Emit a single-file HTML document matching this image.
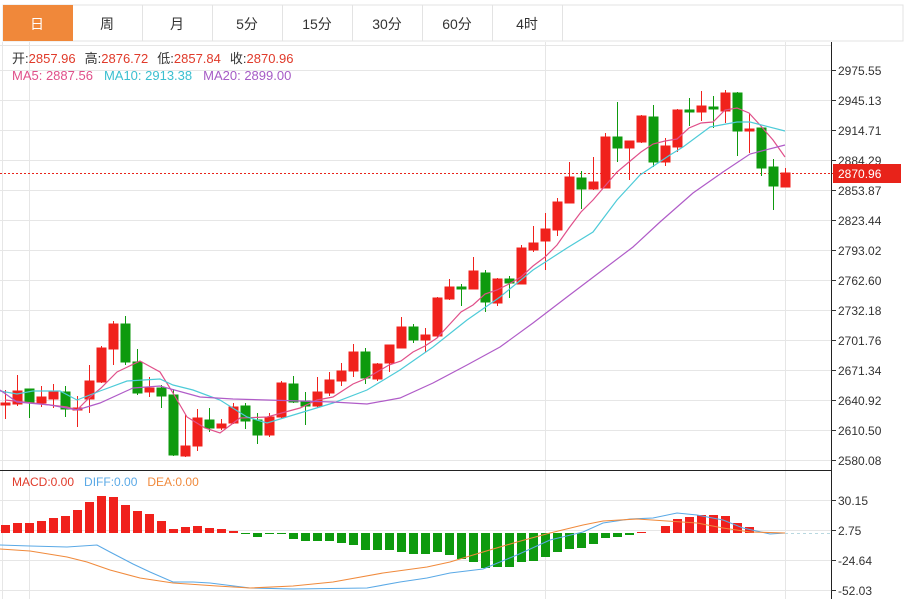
<!DOCTYPE html>
<html><head><meta charset="utf-8"><style>
body{margin:0;background:#fff;width:905px;height:599px;overflow:hidden;font-family:"Liberation Sans","Noto Sans CJK SC",sans-serif;}
svg text{font-family:"Liberation Sans","Noto Sans CJK SC",sans-serif;}
</style></head><body>
<svg width="905" height="599" viewBox="0 0 905 599" xmlns="http://www.w3.org/2000/svg">
<rect x="3" y="5" width="900" height="36" fill="#fff" stroke="#e3e3e3"/>
<rect x="3" y="5" width="70" height="36" fill="#f0883a"/>
<g stroke="#e3e3e3"><line x1="142.5" y1="5" x2="142.5" y2="41"/><line x1="212.5" y1="5" x2="212.5" y2="41"/><line x1="282.5" y1="5" x2="282.5" y2="41"/><line x1="352.5" y1="5" x2="352.5" y2="41"/><line x1="422.5" y1="5" x2="422.5" y2="41"/><line x1="492.5" y1="5" x2="492.5" y2="41"/><line x1="562.5" y1="5" x2="562.5" y2="41"/></g>
<g font-size="14" text-anchor="middle" fill="#333"><text x="37" y="29" fill="#fff">日</text><text x="107" y="29">周</text><text x="177" y="29">月</text><text x="247" y="29">5分</text><text x="317" y="29">15分</text><text x="387" y="29">30分</text><text x="457" y="29">60分</text><text x="527" y="29">4时</text></g>
<g stroke="#e6e6e6" stroke-width="1">
<line x1="0" y1="45.5" x2="831" y2="45.5"/>
<line x1="0" y1="70.5" x2="831" y2="70.5"/><line x1="0" y1="100.5" x2="831" y2="100.5"/><line x1="0" y1="130.5" x2="831" y2="130.5"/><line x1="0" y1="160.5" x2="831" y2="160.5"/><line x1="0" y1="190.5" x2="831" y2="190.5"/><line x1="0" y1="220.5" x2="831" y2="220.5"/><line x1="0" y1="250.5" x2="831" y2="250.5"/><line x1="0" y1="280.5" x2="831" y2="280.5"/><line x1="0" y1="310.5" x2="831" y2="310.5"/><line x1="0" y1="340.5" x2="831" y2="340.5"/><line x1="0" y1="370.5" x2="831" y2="370.5"/><line x1="0" y1="400.5" x2="831" y2="400.5"/><line x1="0" y1="430.5" x2="831" y2="430.5"/><line x1="0" y1="460.5" x2="831" y2="460.5"/>
<line x1="0" y1="500.5" x2="831" y2="500.5"/><line x1="0" y1="530.5" x2="831" y2="530.5"/><line x1="0" y1="560.5" x2="831" y2="560.5"/><line x1="0" y1="590.5" x2="831" y2="590.5"/>
<line x1="29.5" y1="42" x2="29.5" y2="599"/><line x1="545.5" y1="42" x2="545.5" y2="599"/><line x1="785.5" y1="42" x2="785.5" y2="599"/>
<line x1="2.5" y1="42" x2="2.5" y2="599"/>
</g>
<line x1="0" y1="470.5" x2="831" y2="470.5" stroke="#222"/>
<line x1="831.5" y1="42" x2="831.5" y2="599" stroke="#222"/>
<g font-size="12" fill="#333">
<g stroke="#333"><line x1="831" y1="70.5" x2="836" y2="70.5"/><line x1="831" y1="100.5" x2="836" y2="100.5"/><line x1="831" y1="130.5" x2="836" y2="130.5"/><line x1="831" y1="160.5" x2="836" y2="160.5"/><line x1="831" y1="190.5" x2="836" y2="190.5"/><line x1="831" y1="220.5" x2="836" y2="220.5"/><line x1="831" y1="250.5" x2="836" y2="250.5"/><line x1="831" y1="280.5" x2="836" y2="280.5"/><line x1="831" y1="310.5" x2="836" y2="310.5"/><line x1="831" y1="340.5" x2="836" y2="340.5"/><line x1="831" y1="370.5" x2="836" y2="370.5"/><line x1="831" y1="400.5" x2="836" y2="400.5"/><line x1="831" y1="430.5" x2="836" y2="430.5"/><line x1="831" y1="460.5" x2="836" y2="460.5"/><line x1="831" y1="500.5" x2="836" y2="500.5"/><line x1="831" y1="530.5" x2="836" y2="530.5"/><line x1="831" y1="560.5" x2="836" y2="560.5"/><line x1="831" y1="590.5" x2="836" y2="590.5"/></g>
<text x="838" y="75">2975.55</text><text x="838" y="105">2945.13</text><text x="838" y="135">2914.71</text><text x="838" y="165">2884.29</text><text x="838" y="195">2853.87</text><text x="838" y="225">2823.44</text><text x="838" y="255">2793.02</text><text x="838" y="285">2762.60</text><text x="838" y="315">2732.18</text><text x="838" y="345">2701.76</text><text x="838" y="375">2671.34</text><text x="838" y="405">2640.92</text><text x="838" y="435">2610.50</text><text x="838" y="465">2580.08</text>
<text x="838" y="505">30.15</text><text x="838" y="535">2.75</text><text x="838" y="565">-24.64</text><text x="838" y="595">-52.03</text>
</g>
<line x1="0" y1="173.5" x2="833" y2="173.5" stroke="#e8231a" stroke-dasharray="2,2"/>
<rect x="833" y="164" width="68" height="19" fill="#e8231a"/>
<text x="838" y="178" font-size="12" fill="#fff">2870.96</text>
<g font-size="13"><text x="12" y="63"><tspan fill="#333">开:</tspan><tspan fill="#e03a2a">2857.96</tspan><tspan fill="#333" dx="9">高:</tspan><tspan fill="#e03a2a">2876.72</tspan><tspan fill="#333" dx="9">低:</tspan><tspan fill="#e03a2a">2857.84</tspan><tspan fill="#333" dx="9">收:</tspan><tspan fill="#e03a2a">2870.96</tspan></text>
<text x="12" y="80"><tspan fill="#e0508a">MA5: 2887.56</tspan><tspan fill="#3bbfd0" dx="11">MA10: 2913.38</tspan><tspan fill="#a65cc6" dx="11">MA20: 2899.00</tspan></text></g>
<g font-size="12"><text x="12" y="486"><tspan fill="#e03a2a">MACD:0.00</tspan><tspan fill="#5aa9e6" dx="10">DIFF:0.00</tspan><tspan fill="#f08a3c" dx="10">DEA:0.00</tspan></text></g>
<g stroke-width="1">
<g stroke="#f0211c" fill="#f0211c">
<line x1="5.5" y1="390" x2="5.5" y2="419"/><rect x="1" y="403" width="9" height="2"/>
<line x1="17.5" y1="375" x2="17.5" y2="406"/><rect x="13" y="391" width="9" height="13"/>
<line x1="41.5" y1="386" x2="41.5" y2="407"/><rect x="37" y="397" width="9" height="6"/>
<line x1="53.5" y1="384" x2="53.5" y2="408"/><rect x="49" y="392" width="9" height="7"/>
<line x1="77.5" y1="396" x2="77.5" y2="427"/><rect x="73" y="408" width="9" height="2"/>
<line x1="89.5" y1="365" x2="89.5" y2="413"/><rect x="85" y="381" width="9" height="18"/>
<line x1="101.5" y1="346" x2="101.5" y2="383"/><rect x="97" y="348" width="9" height="34"/>
<line x1="113.5" y1="321" x2="113.5" y2="365"/><rect x="109" y="324" width="9" height="25"/>
<line x1="149.5" y1="377" x2="149.5" y2="397"/><rect x="145" y="388" width="9" height="4"/>
<line x1="185.5" y1="415" x2="185.5" y2="457"/><rect x="181" y="446" width="9" height="10"/>
<line x1="197.5" y1="409" x2="197.5" y2="451"/><rect x="193" y="418" width="9" height="28"/>
<line x1="221.5" y1="419" x2="221.5" y2="430"/><rect x="217" y="424" width="9" height="4"/>
<line x1="233.5" y1="403" x2="233.5" y2="424"/><rect x="229" y="407" width="9" height="16"/>
<line x1="269.5" y1="413" x2="269.5" y2="437"/><rect x="265" y="417" width="9" height="18"/>
<line x1="281.5" y1="381" x2="281.5" y2="418"/><rect x="277" y="383" width="9" height="34"/>
<line x1="317.5" y1="377" x2="317.5" y2="408"/><rect x="313" y="392" width="9" height="14"/>
<line x1="329.5" y1="372" x2="329.5" y2="396"/><rect x="325" y="380" width="9" height="13"/>
<line x1="341.5" y1="363" x2="341.5" y2="386"/><rect x="337" y="371" width="9" height="10"/>
<line x1="353.5" y1="344" x2="353.5" y2="377"/><rect x="349" y="352" width="9" height="19"/>
<line x1="377.5" y1="363" x2="377.5" y2="381"/><rect x="373" y="364" width="9" height="15"/>
<line x1="389.5" y1="345" x2="389.5" y2="372"/><rect x="385" y="345" width="9" height="18"/>
<line x1="401.5" y1="317" x2="401.5" y2="348"/><rect x="397" y="327" width="9" height="21"/>
<line x1="425.5" y1="328" x2="425.5" y2="352"/><rect x="421" y="335" width="9" height="5"/>
<line x1="437.5" y1="297" x2="437.5" y2="338"/><rect x="433" y="298" width="9" height="38"/>
<line x1="449.5" y1="279" x2="449.5" y2="300"/><rect x="445" y="287" width="9" height="12"/>
<line x1="473.5" y1="257" x2="473.5" y2="289"/><rect x="469" y="271" width="9" height="18"/>
<line x1="497.5" y1="278" x2="497.5" y2="306"/><rect x="493" y="279" width="9" height="24"/>
<line x1="521.5" y1="245" x2="521.5" y2="284"/><rect x="517" y="248" width="9" height="36"/>
<line x1="533.5" y1="226" x2="533.5" y2="252"/><rect x="529" y="243" width="9" height="7"/>
<line x1="545.5" y1="213" x2="545.5" y2="270"/><rect x="541" y="229" width="9" height="12"/>
<line x1="557.5" y1="198" x2="557.5" y2="236"/><rect x="553" y="202" width="9" height="28"/>
<line x1="569.5" y1="162" x2="569.5" y2="203"/><rect x="565" y="177" width="9" height="26"/>
<line x1="593.5" y1="157" x2="593.5" y2="190"/><rect x="589" y="182" width="9" height="7"/>
<line x1="605.5" y1="133" x2="605.5" y2="188"/><rect x="601" y="137" width="9" height="51"/>
<line x1="629.5" y1="141" x2="629.5" y2="180"/><rect x="625" y="141" width="9" height="7"/>
<line x1="641.5" y1="115" x2="641.5" y2="143"/><rect x="637" y="116" width="9" height="26"/>
<line x1="665.5" y1="138" x2="665.5" y2="166"/><rect x="661" y="146" width="9" height="16"/>
<line x1="677.5" y1="109" x2="677.5" y2="152"/><rect x="673" y="110" width="9" height="37"/>
<line x1="701.5" y1="91" x2="701.5" y2="121"/><rect x="697" y="106" width="9" height="6"/>
<line x1="725.5" y1="90" x2="725.5" y2="123"/><rect x="721" y="93" width="9" height="18"/>
<line x1="749.5" y1="113" x2="749.5" y2="153"/><rect x="745" y="129" width="9" height="2"/>
<line x1="785.5" y1="168" x2="785.5" y2="187"/><rect x="781" y="173" width="9" height="14"/>
</g>
<g stroke="#0e9a0e" fill="#0e9a0e">
<line x1="29.5" y1="389" x2="29.5" y2="418"/><rect x="25" y="389" width="9" height="13"/>
<line x1="65.5" y1="386" x2="65.5" y2="417"/><rect x="61" y="392" width="9" height="17"/>
<line x1="125.5" y1="316" x2="125.5" y2="365"/><rect x="121" y="324" width="9" height="38"/>
<line x1="137.5" y1="349" x2="137.5" y2="395"/><rect x="133" y="362" width="9" height="31"/>
<line x1="161.5" y1="385" x2="161.5" y2="408"/><rect x="157" y="388" width="9" height="8"/>
<line x1="173.5" y1="389" x2="173.5" y2="456"/><rect x="169" y="395" width="9" height="60"/>
<line x1="209.5" y1="408" x2="209.5" y2="432"/><rect x="205" y="420" width="9" height="8"/>
<line x1="245.5" y1="403" x2="245.5" y2="429"/><rect x="241" y="406" width="9" height="15"/>
<line x1="257.5" y1="413" x2="257.5" y2="444"/><rect x="253" y="420" width="9" height="15"/>
<line x1="293.5" y1="376" x2="293.5" y2="403"/><rect x="289" y="384" width="9" height="18"/>
<line x1="305.5" y1="392" x2="305.5" y2="425"/><rect x="301" y="401" width="9" height="5"/>
<line x1="365.5" y1="348" x2="365.5" y2="384"/><rect x="361" y="352" width="9" height="26"/>
<line x1="413.5" y1="324" x2="413.5" y2="343"/><rect x="409" y="327" width="9" height="13"/>
<line x1="461.5" y1="284" x2="461.5" y2="306"/><rect x="457" y="287" width="9" height="2"/>
<line x1="485.5" y1="270" x2="485.5" y2="312"/><rect x="481" y="273" width="9" height="29"/>
<line x1="509.5" y1="276" x2="509.5" y2="298"/><rect x="505" y="279" width="9" height="4"/>
<line x1="581.5" y1="171" x2="581.5" y2="209"/><rect x="577" y="178" width="9" height="11"/>
<line x1="617.5" y1="102" x2="617.5" y2="162"/><rect x="613" y="137" width="9" height="11"/>
<line x1="653.5" y1="105" x2="653.5" y2="167"/><rect x="649" y="117" width="9" height="45"/>
<line x1="689.5" y1="98" x2="689.5" y2="126"/><rect x="685" y="110" width="9" height="2"/>
<line x1="713.5" y1="96" x2="713.5" y2="128"/><rect x="709" y="107" width="9" height="2"/>
<line x1="737.5" y1="92" x2="737.5" y2="156"/><rect x="733" y="93" width="9" height="38"/>
<line x1="761.5" y1="128" x2="761.5" y2="176"/><rect x="757" y="128" width="9" height="40"/>
<line x1="773.5" y1="159" x2="773.5" y2="210"/><rect x="769" y="167" width="9" height="19"/>
</g></g>
<g fill="none" stroke-width="1.2">
<polyline stroke="#e0508a" points="5,400 33,403 67,407 77,410 89,398 101,388 117,372 140,361 160,372 173,393 187,417 205,428 220,433 240,418 267,417 300,408 317,400 333,397 353,384 365,379 389,365 401,361 413,352 425,346 437,338 449,325 461,312 473,305 485,294 497,290 509,284 521,277 533,266 545,257 557,245 569,228 581,212 593,200 605,186 617,172 629,162 641,152 653,144 665,141 677,139 689,128 701,123 713,122 725,110 737,108 749,113 760,125 773,140 785,157"/>
<polyline stroke="#4ecbd8" points="0,391 17,394 33,391 60,391 77,400 100,391 127,381 160,379 173,385 193,390 220,400 247,417 267,423 300,413 333,403 367,390 400,370 433,347 467,320 500,297 533,270 567,248 593,232 617,200 640,175 670,155 683,147 710,127 737,122 750,122 785,131"/>
<polyline stroke="#b05cc8" points="0,390 17,402 50,405 77,410 100,403 133,388 160,386 200,397 233,399 267,400 300,401 333,402 367,404 400,398 433,383 467,365 500,347 533,323 567,297 600,272 633,247 660,222 693,193 723,172 750,154 785,145"/>
</g>
<g fill="#f0211c">
<rect x="1" y="525" width="9" height="8"/><rect x="13" y="523" width="9" height="10"/><rect x="25" y="523" width="9" height="10"/><rect x="37" y="521" width="9" height="12"/><rect x="49" y="518" width="9" height="15"/><rect x="61" y="516" width="9" height="17"/><rect x="73" y="510" width="9" height="23"/><rect x="85" y="502" width="9" height="31"/><rect x="97" y="496" width="9" height="37"/><rect x="109" y="497" width="9" height="36"/><rect x="121" y="505" width="9" height="28"/><rect x="133" y="511" width="9" height="22"/><rect x="145" y="514" width="9" height="19"/><rect x="157" y="521" width="9" height="12"/><rect x="169" y="529" width="9" height="4"/><rect x="181" y="527" width="9" height="6"/><rect x="193" y="526" width="9" height="7"/><rect x="205" y="528" width="9" height="5"/><rect x="217" y="529" width="9" height="4"/><rect x="229" y="531" width="9" height="2"/>
<rect x="637" y="532" width="9" height="1"/><rect x="661" y="526" width="9" height="7"/><rect x="673" y="519" width="9" height="14"/><rect x="685" y="517" width="9" height="16"/><rect x="697" y="515" width="9" height="18"/><rect x="709" y="515" width="9" height="18"/><rect x="721" y="516" width="9" height="17"/><rect x="733" y="523" width="9" height="10"/><rect x="745" y="527" width="9" height="6"/>
</g>
<g fill="#0e9a0e">
<rect x="241" y="533" width="9" height="1"/><rect x="253" y="533" width="9" height="4"/><rect x="265" y="533" width="9" height="1"/><rect x="277" y="533" width="9" height="1"/><rect x="289" y="533" width="9" height="6"/><rect x="301" y="533" width="9" height="8"/><rect x="313" y="533" width="9" height="8"/><rect x="325" y="533" width="9" height="8"/><rect x="337" y="533" width="9" height="10"/><rect x="349" y="533" width="9" height="12"/><rect x="361" y="533" width="9" height="17"/><rect x="373" y="533" width="9" height="17"/><rect x="385" y="533" width="9" height="17"/><rect x="397" y="533" width="9" height="19"/><rect x="409" y="533" width="9" height="21"/><rect x="421" y="533" width="9" height="21"/><rect x="433" y="533" width="9" height="19"/><rect x="445" y="533" width="9" height="22"/><rect x="457" y="533" width="9" height="26"/><rect x="469" y="533" width="9" height="29"/><rect x="481" y="533" width="9" height="35"/><rect x="493" y="533" width="9" height="34"/><rect x="505" y="533" width="9" height="34"/><rect x="517" y="533" width="9" height="29"/><rect x="529" y="533" width="9" height="28"/><rect x="541" y="533" width="9" height="24"/><rect x="553" y="533" width="9" height="19"/><rect x="565" y="533" width="9" height="16"/><rect x="577" y="533" width="9" height="15"/><rect x="589" y="533" width="9" height="11"/><rect x="601" y="533" width="9" height="5"/><rect x="613" y="533" width="9" height="4"/><rect x="625" y="533" width="9" height="2"/>
</g>
<line x1="785" y1="533.5" x2="831" y2="533.5" stroke="#b8d8e0" stroke-dasharray="3,3"/>
<g fill="none" stroke-width="1.1">
<polyline stroke="#5aa9e6" points="0,545 30,546 67,547 97,545 110,552 133,564 150,572 173,582 193,582 210,583 250,588 293,589 367,588 400,582 427,578 450,573 483,569 517,555 550,540 583,532 603,523 630,519 653,518 677,513 697,515 723,520 743,528 770,534 785,533"/>
<polyline stroke="#f08a3c" points="0,549 30,551 67,557 87,562 110,570 140,578 173,583 217,586 250,588 293,586 333,582 383,573 427,567 450,562 483,552 517,542 550,533 583,525 603,521 637,519 667,521 697,523 723,528 750,532 785,533"/>
</g>
</svg>
</body></html>
